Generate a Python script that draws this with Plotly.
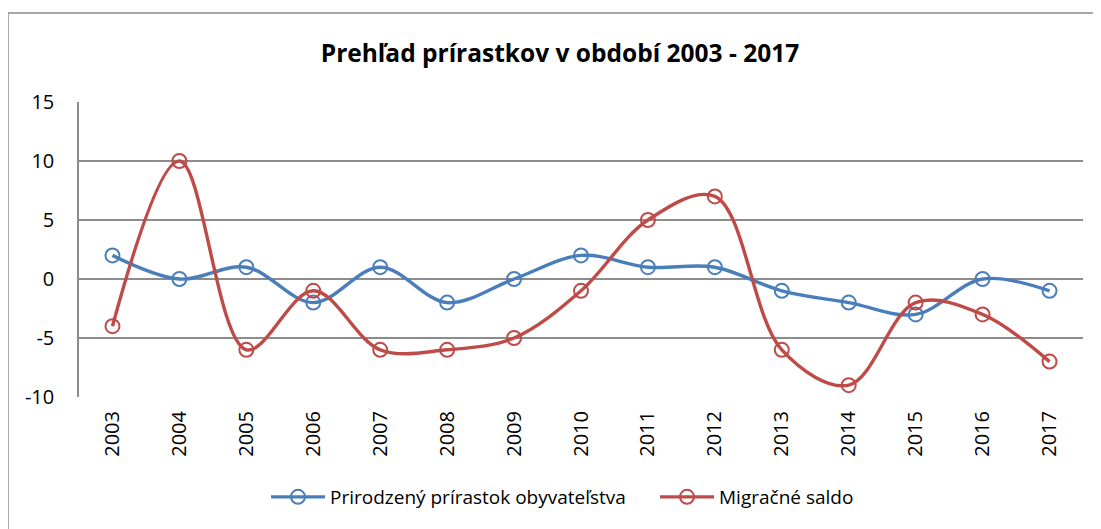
import plotly.graph_objects as go

years = [str(y) for y in range(2003, 2018)]
prirodzeny = [2, 0, 1, -2, 1, -2, 0, 2, 1, 1, -1, -2, -3, 0, -1]
migracne = [-4, 10, -6, -1, -6, -6, -5, -1, 5, 7, -6, -9, -2, -3, -7]
y_ticks = [-10, -5, 0, 5, 10, 15]
y_tick_labels = ["-10", "-5", "0", "5", "10", "15"]

OFF = 8  # page body margin
W, H = 1101 - OFF, 529 - OFF
L, R, T, B = 79 - OFF, 1101 - 1083, 102 - OFF, 529 - 397
pw, ph = W - L - R, H - T - B

def px(x):
    return (x - OFF - L) / pw

def py(y):
    return (H - B - (y - OFF)) / ph

font = "Open Sans"
fig = go.Figure()
fig.add_trace(go.Scatter(
    x=years, y=prirodzeny, name="Prirodzený prírastok obyvateľstva",
    mode="lines+markers", line=dict(color="#4A7EBB", width=3.4, shape="spline", smoothing=1),
    marker=dict(symbol="circle-open", size=14, color="#4A7EBB", line=dict(width=2))))
fig.add_trace(go.Scatter(
    x=years, y=migracne, name="Migračné saldo",
    mode="lines+markers", line=dict(color="#BE4B48", width=3.4, shape="spline", smoothing=1),
    marker=dict(symbol="circle-open", size=14, color="#BE4B48", line=dict(width=2))))

fig.update_layout(
    width=W, height=H,
    margin=dict(l=L, r=R, t=T, b=B),
    paper_bgcolor="white", plot_bgcolor="white",
    title=dict(text="<b>Prehľad prírastkov v období 2003 - 2017</b>", x=px(560), xref="paper",
               xanchor="center", y=1 - (53 - OFF) / H, yanchor="middle",
               font=dict(family=font, size=24.5, color="black")),
    xaxis=dict(type="category", tickangle=-90, tickfont=dict(family=font, size=20, color="black"),
               showgrid=False, showline=False, ticks="", range=[-0.5, 14.5],
               ticklabelstandoff=9),
    yaxis=dict(range=[-10, 15], tickvals=y_ticks, ticktext=y_tick_labels,
               tickfont=dict(family=font, size=20, color="black"),
               showgrid=True, gridcolor="#8C8C8C", gridwidth=1.5, zeroline=False,
               showline=True, linecolor="#8C8C8C", linewidth=1.5, ticks="", ticklen=0,
               ticklabelstandoff=19),
    legend=dict(orientation="h", x=px(266), xanchor="left", y=py(497), yanchor="middle",
                font=dict(family=font, size=19, color="black"), itemwidth=54, tracegroupgap=0,
                entrywidth=320, entrywidthmode="pixels"),
    showlegend=True,
    shapes=[dict(type="rect", xref="paper", yref="paper",
                 x0=px(8), x1=px(1110), y0=py(540), y1=py(13),
                 line=dict(color="#8C8C8C", width=1.5), fillcolor="rgba(0,0,0,0)", layer="below")],
)

fig.write_html("out.html")
